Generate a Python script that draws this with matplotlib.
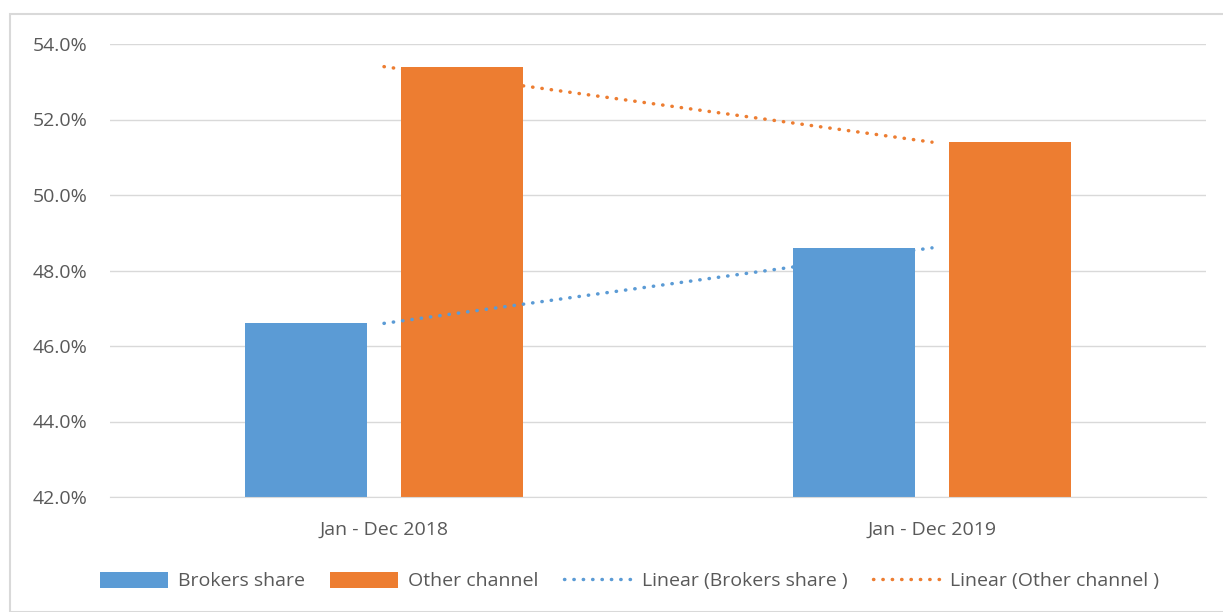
import matplotlib.pyplot as plt
import numpy as np
from matplotlib.patches import Rectangle
from matplotlib.ticker import PercentFormatter

categories = ['Jan - Dec 2018', 'Jan - Dec 2019']
brokers = [46.6, 48.6]
other = [53.4, 51.4]
yticks = [42, 44, 46, 48, 50, 52, 54]

blue = '#5B9BD5'
orange = '#ED7D31'
grey = '#595959'

plt.rcParams['font.family'] = ['Open Sans', 'DejaVu Sans']

fig = plt.figure(figsize=(12.23, 6.12), dpi=100)
ax = fig.add_axes([110/1223, 1-497/612, 1096/1223, 453/612])

x = np.arange(len(categories))
w = 0.224
off = 0.1425
b1 = ax.bar(x-off, brokers, w, color=blue, label='Brokers share', zorder=2)
b2 = ax.bar(x+off, other, w, color=orange, label='Other channel', zorder=2)

# linear trendlines
pb = np.polyfit(x, brokers, 1)
po = np.polyfit(x, other, 1)
dots = (0, (0.1, 2.6))
l1, = ax.plot(x, np.polyval(pb, x), color=blue, lw=2.5, ls=dots,
              dash_capstyle='round', label='Linear (Brokers share )', zorder=3)
l2, = ax.plot(x, np.polyval(po, x), color=orange, lw=2.5, ls=dots,
              dash_capstyle='round', label='Linear (Other channel )', zorder=3)

ax.set_xlim(-0.5, 1.5)
ax.set_ylim(42, 54)
ax.set_yticks(yticks)
ax.yaxis.set_major_formatter(PercentFormatter(decimals=1))
ax.set_xticks(x)
ax.set_xticklabels(categories)
ax.grid(axis='y', color='#D9D9D9', lw=1, zorder=0)
for s in ['top', 'right', 'left']:
    ax.spines[s].set_visible(False)
ax.spines['bottom'].set_color('#D9D9D9')
ax.tick_params(axis='both', length=0, labelsize=14, colors=grey)
ax.tick_params(axis='y', pad=16)
ax.tick_params(axis='x', pad=17)

fig.legend([b1, b2, l1, l2], [h.get_label() for h in [b1, b2, l1, l2]],
           loc='center', bbox_to_anchor=(0.515, 1-581/612), ncol=4,
           frameon=False, fontsize=14, labelcolor=grey, handlelength=3.5,
           handleheight=0.9, columnspacing=1.3, handletextpad=0.5)

fig.patches.append(Rectangle((10/1223, 0), 1, 1-14/612, transform=fig.transFigure,
                             fill=False, edgecolor='#D9D9D9', lw=1.5))

fig.savefig('out.png', dpi=100)
